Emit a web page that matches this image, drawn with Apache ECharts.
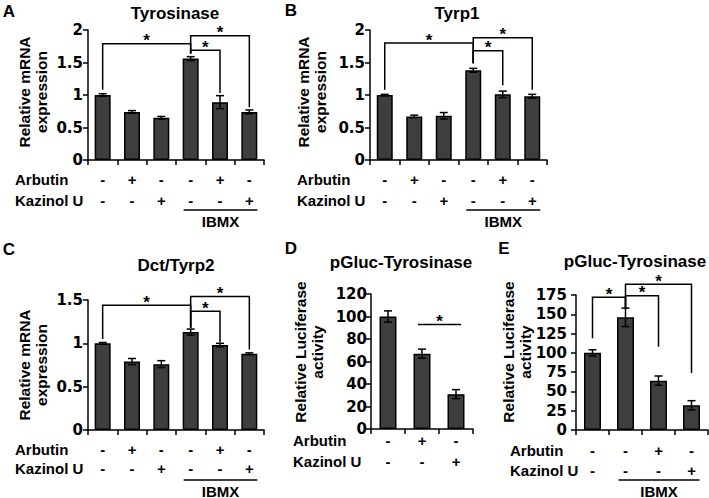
<!DOCTYPE html>
<html>
<head>
<meta charset="utf-8">
<script src="https://cdn.jsdelivr.net/npm/echarts@6/dist/echarts.min.js"></script>
<style>
  html, body { margin: 0; padding: 0; background: #fff; }
  #chart { width: 709px; height: 498px; }
</style>
</head>
<body>
<div id="chart"></div>
<script>
// A - Tyrosinase mRNA
const tyrMean = [1.0, 0.74, 0.65, 1.56, 0.89, 0.74];
const tyrErr = [0.02, 0.02, 0.02, 0.03, 0.10, 0.03];
// B - Tyrp1 mRNA
const tyrp1Mean = [1.0, 0.67, 0.68, 1.38, 1.01, 0.98];
const tyrp1Err = [0.01, 0.02, 0.05, 0.03, 0.05, 0.03];
// C - Dct/Tyrp2 mRNA
const dctMean = [1.0, 0.79, 0.76, 1.13, 0.98, 0.88];
const dctErr = [0.01, 0.035, 0.04, 0.035, 0.02, 0.01];
// D - pGluc-Tyrosinase, no IBMX
const lucDMean = [100, 67, 31];
const lucDErr = [5, 4, 4];
// E - pGluc-Tyrosinase with IBMX
const lucEMean = [100, 146, 64, 32];
const lucEErr = [4, 12, 6, 6];

// treatment rows under the bars
const arbutin6 = ['-', '+', '-', '-', '+', '-'];
const kazinol6 = ['-', '-', '+', '-', '-', '+'];
const arbutinD = ['-', '+', '-'];
const kazinolD = ['-', '-', '+'];
const arbutinE = ['-', '-', '+', '-'];
const kazinolE = ['-', '-', '-', '+'];

// significance brackets: [fromBar, toBar, lineY, leftLegEnd, rightLegEnd]
const tyrSig = [[0, 3, 1.79, 1.08, 1.64], [3, 4, 1.69, 1.64, 1.03], [3, 5, 1.91, 1.64, 0.81]];
const tyrp1Sig = [[0, 3, 1.80, 1.08, 1.49], [3, 4, 1.68, 1.49, 1.15], [3, 5, 1.88, 1.49, 1.08]];
const dctSig = [[0, 3, 1.44, 1.05, 1.18], [3, 4, 1.37, 1.18, 1.01], [3, 5, 1.54, 1.18, 0.93]];
const lucDSig = [[0.88, 2.15, 93, 93, 93]];
const lucESig = [[0, 1, 172, 119, 157], [1, 2, 174, 157, 108], [1, 3, 189, 157, 74]];

const FONT = '"Liberation Sans", Arial, sans-serif';
const NUM_FONT = '"DejaVu Sans", sans-serif';

const panels = [
  { letter: 'A', letterPos: [9, 11], title: 'Tyrosinase', titlePos: [175, 13],
    mean: tyrMean, err: tyrErr, sig: tyrSig, arb: arbutin6, kaz: kazinol6, ibmx: [3, 5],
    max: 2, step: 0.5, yName: 'Relative mRNA\nexpression', yNamePos: [33, 92],
    grid: { left: 88, top: 30, width: 176, height: 130 }, barW: 16,
    labelMargin: 8.5, rowGap: 21, rowX: 15, tickMargin: 5 },
  { letter: 'B', letterPos: [291, 10], title: 'Tyrp1', titlePos: [457, 13],
    mean: tyrp1Mean, err: tyrp1Err, sig: tyrp1Sig, arb: arbutin6, kaz: kazinol6, ibmx: [3, 5],
    max: 2, step: 0.5, yName: 'Relative mRNA\nexpression', yNamePos: [312, 92],
    grid: { left: 370, top: 30, width: 177, height: 130 }, barW: 16,
    labelMargin: 8.5, rowGap: 21, rowX: 297, tickMargin: 5 },
  { letter: 'C', letterPos: [9, 249], title: 'Dct/Tyrp2', titlePos: [176, 265],
    mean: dctMean, err: dctErr, sig: dctSig, arb: arbutin6, kaz: kazinol6, ibmx: [3, 5],
    max: 1.5, step: 0.5, yName: 'Relative mRNA\nexpression', yNamePos: [33, 365],
    grid: { left: 88, top: 300, width: 176, height: 130 }, barW: 16,
    labelMargin: 9.5, rowGap: 19, rowX: 15, tickMargin: 5 },
  { letter: 'D', letterPos: [291, 248], title: 'pGluc-Tyrosinase', titlePos: [401, 262],
    mean: lucDMean, err: lucDErr, sig: lucDSig, arb: arbutinD, kaz: kazinolD, ibmx: null,
    max: 120, step: 20, yName: 'Relative Luciferase\nactivity', yNamePos: [309, 352],
    grid: { left: 371, top: 294, width: 102, height: 135 }, barW: 17,
    labelMargin: 0.5, rowGap: 21, rowX: 293, tickMargin: 4 },
  { letter: 'E', letterPos: [504, 248], title: 'pGluc-Tyrosinase', titlePos: [635, 261],
    mean: lucEMean, err: lucEErr, sig: lucESig, arb: arbutinE, kaz: kazinolE, ibmx: [1, 3],
    max: 175, step: 25, yName: 'Relative Luciferase\nactivity', yNamePos: [517, 352],
    grid: { left: 576, top: 295, width: 132, height: 135 }, barW: 17,
    labelMargin: 10.5, rowGap: 20, rowX: 510, tickMargin: 9 }
];

function renderErr(params, api) {
  const x = api.value(0), v = api.value(1), e = api.value(2);
  const hi = api.coord([x, v + e]);
  const lo = api.coord([x, v - e]);
  const w = 4;
  const s = { stroke: '#000', lineWidth: 1.5 };
  return {
    type: 'group',
    children: [
      { type: 'line', shape: { x1: hi[0], y1: hi[1], x2: lo[0], y2: lo[1] }, style: s },
      { type: 'line', shape: { x1: hi[0] - w, y1: hi[1], x2: hi[0] + w, y2: hi[1] }, style: s },
      { type: 'line', shape: { x1: lo[0] - w, y1: lo[1], x2: lo[0] + w, y2: lo[1] }, style: s }
    ]
  };
}

function renderSig(params, api) {
  const band = api.size([1, 0])[0];
  const px = (x, y) => {
    const r = Math.round(x);
    const c = api.coord([r, y]);
    return [c[0] + (x - r) * band, c[1]];
  };
  const x1 = api.value(0), x2 = api.value(1), y = api.value(2);
  const a = px(x1, y), b = px(x2, y);
  const la = px(x1, api.value(3)), lb = px(x2, api.value(4));
  return {
    type: 'group',
    children: [
      { type: 'polyline', shape: { points: [la, a, b, lb] },
        style: { stroke: '#000', lineWidth: 1.5, fill: null } },
      { type: 'text', x: (a[0] + b[0]) / 2, y: a[1] - 3,
        style: { text: '*', fontSize: 17, fontWeight: 'bold', fontFamily: FONT,
                 textAlign: 'center', textVerticalAlign: 'middle', fill: '#000' } }
    ]
  };
}

const chart = echarts.init(document.getElementById('chart'), null, { renderer: 'svg' });

const option = { animation: false, title: [], grid: [], xAxis: [], yAxis: [], series: [] };
const axisColor = { color: '#000', width: 1.5 };

panels.forEach((p, k) => {
  option.grid.push(Object.assign({ containLabel: false }, p.grid));
  option.title.push({
    text: p.letter, left: p.letterPos[0], top: p.letterPos[1], padding: 0,
    textAlign: 'center', textVerticalAlign: 'middle',
    textStyle: { fontSize: 17, fontWeight: 'bold', fontFamily: FONT, color: '#000' }
  });
  option.title.push({
    text: p.title, left: p.titlePos[0], top: p.titlePos[1], padding: 0,
    textAlign: 'center', textVerticalAlign: 'middle',
    textStyle: { fontSize: 17, fontWeight: 'bold', fontFamily: FONT, color: '#000', lineHeight: 17 }
  });
  option.xAxis.push({
    type: 'category', gridIndex: k,
    data: p.mean.map((_, i) => String(i)),
    axisLine: { lineStyle: axisColor },
    axisTick: { show: true, interval: 0, length: 5, lineStyle: axisColor },
    axisLabel: {
      interval: 0, margin: p.labelMargin, lineHeight: p.rowGap,
      fontSize: 15, fontWeight: 'bold', fontFamily: FONT, color: '#000',
      formatter: (v, i) => p.arb[i] + '\n' + p.kaz[i]
    }
  });
  option.yAxis.push({
    type: 'value', gridIndex: k, min: 0, max: p.max, interval: p.step,
    axisLine: { show: true, lineStyle: axisColor },
    axisTick: { show: true, length: 5, lineStyle: axisColor },
    splitLine: { show: false },
    axisLabel: { margin: p.tickMargin, fontSize: 15, fontWeight: 'bold', fontFamily: NUM_FONT, color: '#000' }
  });
  option.series.push({
    type: 'bar', xAxisIndex: k, yAxisIndex: k, data: p.mean, barWidth: p.barW, silent: true,
    itemStyle: { color: '#3e3e3e', borderColor: '#000', borderWidth: 1.5 }
  });
  option.series.push({
    type: 'custom', xAxisIndex: k, yAxisIndex: k, z: 3, silent: true,
    data: p.mean.map((v, i) => [i, v, p.err[i]]), renderItem: renderErr
  });
  option.series.push({
    type: 'custom', xAxisIndex: k, yAxisIndex: k, z: 4, silent: true,
    data: p.sig, renderItem: renderSig
  });
});

chart.setOption(option);

// row names, rotated y titles and the IBMX underline
const graphics = [];
const txt = (extra) => Object.assign({ fontSize: 15, fontWeight: 'bold', fontFamily: FONT, fill: '#000' }, extra);
panels.forEach((p, k) => {
  const axisY = p.grid.top + p.grid.height;
  const r1 = axisY + p.labelMargin + p.rowGap / 2;
  graphics.push({ type: 'text', x: p.rowX, y: r1,
    style: txt({ text: 'Arbutin', textAlign: 'left', textVerticalAlign: 'middle' }) });
  graphics.push({ type: 'text', x: p.rowX, y: r1 + p.rowGap,
    style: txt({ text: 'Kazinol U', textAlign: 'left', textVerticalAlign: 'middle' }) });
  graphics.push({ type: 'text', x: p.yNamePos[0], y: p.yNamePos[1], rotation: Math.PI / 2,
    style: txt({ text: p.yName, fontSize: 15.5, lineHeight: 17, textAlign: 'center', textVerticalAlign: 'middle' }) });
  if (p.ibmx) {
    const a = chart.convertToPixel({ xAxisIndex: k, yAxisIndex: k }, [p.ibmx[0], 0]);
    const b = chart.convertToPixel({ xAxisIndex: k, yAxisIndex: k }, [p.ibmx[1], 0]);
    const x1 = a[0] - 7, x2 = b[0] + 8;
    graphics.push({ type: 'line', shape: { x1: x1, y1: axisY + 50, x2: x2, y2: axisY + 50 },
      style: { stroke: '#000', lineWidth: 1.5 } });
    graphics.push({ type: 'text', x: (x1 + x2) / 2, y: axisY + 61,
      style: txt({ text: 'IBMX', textAlign: 'center', textVerticalAlign: 'middle' }) });
  }
});
chart.setOption({ graphic: graphics });
</script>
</body>
</html>
